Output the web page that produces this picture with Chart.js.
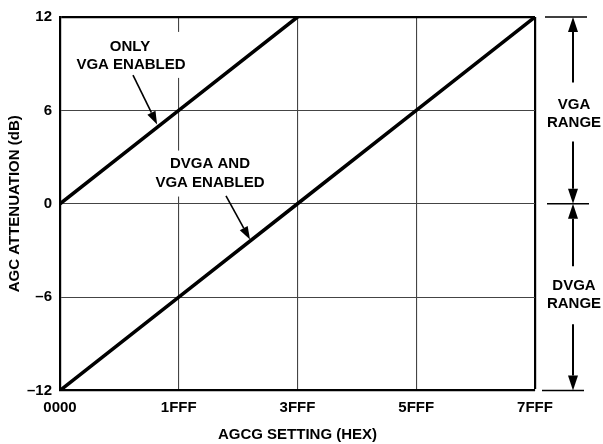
<!DOCTYPE html>
<html>
<head>
<meta charset="utf-8">
<script src="https://cdn.jsdelivr.net/npm/chart.js@4"></script>
<style>
  html, body { margin: 0; padding: 0; background: #fff; }
  #wrap { width: 603px; height: 444px; }
</style>
</head>
<body>
<div id="wrap"><canvas id="chart" width="603" height="444"></canvas></div>
<script>
// AGCG setting codes (hex) and attenuation in dB
const agcgCodes = [0x0000, 0x1FFF, 0x3FFF, 0x5FFF, 0x7FFF];
const tickLabels = ['0000', '1FFF', '3FFF', '5FFF', '7FFF'];
const vgaOnly = [0, 6, 12, null, null];
const dvgaAndVga = [-12, -6, 0, 6, 12];
const yTicks = [-12, -6, 0, 6, 12];

const FONT = '"Liberation Sans", Arial, Helvetica, sans-serif';
const BOLD = 'bold 15px ' + FONT;

function toPoints(values) {
  return agcgCodes.map((x, i) => ({ x: x, y: values[i] })).filter(p => p.y !== null);
}

function arrow(ctx, x1, y1, x2, y2, len, half, lw) {
  const a = Math.atan2(y2 - y1, x2 - x1);
  const bx = x2 - len * Math.cos(a), by = y2 - len * Math.sin(a);
  ctx.lineWidth = lw;
  ctx.beginPath();
  ctx.moveTo(x1, y1);
  ctx.lineTo(bx, by);
  ctx.stroke();
  ctx.beginPath();
  ctx.moveTo(x2, y2);
  ctx.lineTo(bx + half * Math.sin(a), by - half * Math.cos(a));
  ctx.lineTo(bx - half * Math.sin(a), by + half * Math.cos(a));
  ctx.closePath();
  ctx.fill();
}

const notes = {
  id: 'notes',
  beforeDatasetsDraw(chart) {
    const ctx = chart.ctx;
    const xs = chart.scales.x, ys = chart.scales.y;
    const px = v => xs.getPixelForValue(v);
    const py = v => ys.getPixelForValue(v);
    ctx.save();
    ctx.fillStyle = '#fff';
    // white boxes behind the labels (they break the 1FFF grid line)
    ctx.fillRect(px(4860) - 60, py(9.5) - 24, 120, 46);
    ctx.fillRect(px(10347) - 60, py(1.94) - 23, 120, 46);

    ctx.fillStyle = '#000';
    ctx.strokeStyle = '#000';
    ctx.font = BOLD;
    ctx.textAlign = 'center';
    ctx.textBaseline = 'middle';
    ctx.fillText('ONLY', px(4830), py(10.07));
    ctx.fillText('VGA ENABLED', px(4900), py(8.92));
    ctx.fillText('DVGA AND', px(10347), py(2.55));
    ctx.fillText('VGA ENABLED', px(10347), py(1.33));

    arrow(ctx, px(5036), py(8.27), px(6700), py(5.1), 13, 4.5, 1.6);
    arrow(ctx, px(11451), py(0.5), px(13107), py(-2.3), 13, 4.5, 1.6);
    ctx.restore();
  },
  afterDraw(chart) {
    const ctx = chart.ctx;
    const ys = chart.scales.y;
    const r = chart.chartArea.right;
    const ax = r + 38;
    const yTop = ys.getPixelForValue(12);
    const yMid = ys.getPixelForValue(0);
    const yBot = ys.getPixelForValue(-12);
    const ySix = ys.getPixelForValue(6);
    const yNeg = ys.getPixelForValue(-6);
    ctx.save();
    ctx.strokeStyle = '#000';
    ctx.fillStyle = '#000';
    ctx.lineWidth = 1.5;
    ctx.beginPath();
    ctx.moveTo(r + 10, yTop); ctx.lineTo(r + 52, yTop);
    ctx.moveTo(r + 12, yMid); ctx.lineTo(r + 54, yMid);
    ctx.moveTo(r + 7, yBot); ctx.lineTo(r + 49, yBot);
    ctx.stroke();

    arrow(ctx, ax, ySix - 28, ax, yTop, 15, 5, 2);
    arrow(ctx, ax, ySix + 31, ax, yMid, 15, 5, 2);
    arrow(ctx, ax, yNeg - 31, ax, yMid, 15, 5, 2);
    arrow(ctx, ax, yNeg + 27, ax, yBot, 15, 5, 2);

    ctx.font = BOLD;
    ctx.textAlign = 'center';
    ctx.textBaseline = 'middle';
    ctx.fillText('VGA', ax + 1, ySix - 6);
    ctx.fillText('RANGE', ax + 1, ySix + 12);
    ctx.fillText('DVGA', ax + 1, yNeg - 11);
    ctx.fillText('RANGE', ax + 1, yNeg + 7);
    ctx.restore();
  }
};

new Chart(document.getElementById('chart'), {
  type: 'line',
  data: {
    datasets: [
      { label: 'ONLY VGA ENABLED', data: toPoints(vgaOnly) },
      { label: 'DVGA AND VGA ENABLED', data: toPoints(dvgaAndVga) }
    ]
  },
  options: {
    responsive: false,
    animation: false,
    devicePixelRatio: 1,
    layout: { padding: { top: 17, right: 68, bottom: 0, left: 0 } },
    elements: {
      line: { borderColor: '#000', borderWidth: 3.5, tension: 0, borderCapStyle: 'round' },
      point: { radius: 0, hoverRadius: 0 }
    },
    plugins: { legend: { display: false }, tooltip: { enabled: false } },
    scales: {
      x: {
        type: 'linear',
        min: agcgCodes[0],
        max: agcgCodes[agcgCodes.length - 1],
        afterBuildTicks: s => { s.ticks = agcgCodes.map(v => ({ value: v })); },
        afterFit: s => { s.height = 53.5; },
        ticks: {
          color: '#000',
          font: { family: FONT, size: 15, weight: 'bold' },
          padding: 8,
          maxRotation: 0,
          callback: (v) => tickLabels[agcgCodes.indexOf(v)]
        },
        grid: {
          drawTicks: false,
          color: c => c.tick && c.tick.value === agcgCodes[agcgCodes.length - 1] ? '#000' : '#444',
          lineWidth: c => c.tick && c.tick.value === agcgCodes[agcgCodes.length - 1] ? 2.2 : 1.1
        },
        border: { color: '#000', width: 2.2 },
        title: {
          display: true,
          text: 'AGCG SETTING (HEX)',
          color: '#000',
          font: { family: FONT, size: 15, weight: 'bold' },
          padding: { top: 0, bottom: 0 }
        }
      },
      y: {
        min: -12,
        max: 12,
        afterBuildTicks: s => { s.ticks = yTicks.map(v => ({ value: v })); },
        afterFit: s => { s.width = 60; },
        ticks: {
          color: '#000',
          font: { family: FONT, size: 15, weight: 'bold' },
          padding: 8,
          callback: v => v < 0 ? '\u2013' + Math.abs(v) : String(v)
        },
        grid: {
          drawTicks: false,
          color: c => c.tick && c.tick.value === 12 ? '#000' : '#444',
          lineWidth: c => c.tick && c.tick.value === 12 ? 2.2 : 1.1
        },
        border: { color: '#000', width: 2.2 },
        title: {
          display: true,
          text: 'AGC ATTENUATION (dB)',
          color: '#000',
          font: { family: FONT, size: 15, weight: 'bold' },
          padding: { top: 6, bottom: 0 }
        }
      }
    }
  },
  plugins: [notes]
});
</script>
</body>
</html>
